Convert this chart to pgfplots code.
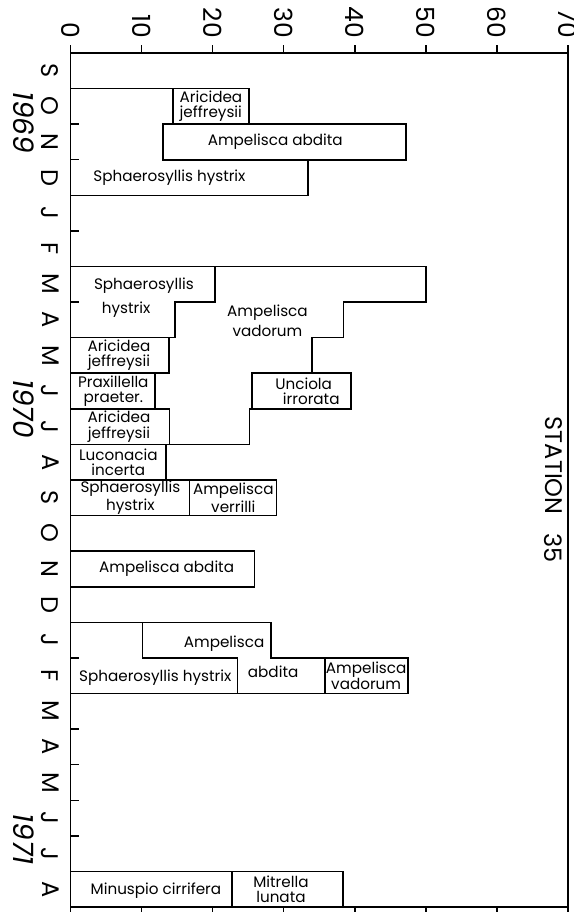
\documentclass[border=0pt]{standalone}
\usepackage{fontspec}
\setmainfont{Poppins}
\usepackage{pgfplots}
\pgfplotsset{compat=1.18}

\newcommand{\lab}{\fontsize{7.6}{7.6}\selectfont}
\tikzset{lbl/.style={font=\lab, align=center, inner sep=0pt},
  box/.style={draw=black, line width=0.8pt, mark=none, line join=miter}}

\begin{document}
\begin{tikzpicture}
\useasboundingbox (-35.35pt,-2.5pt) rectangle (251.35pt,453.5pt);
\begin{axis}[
  scale only axis, width=248.6pt, height=427pt,
  xmin=0, xmax=70, ymin=0, ymax=24, y dir=reverse,
  clip=false,
  axis line style={line width=0.8pt},
  tick align=outside, major tick length=4pt,
  tick style={line width=0.7pt, black},
  /pgf/number format/assume math mode=true,
  xtick={0,10,...,70}, xtick pos=both, xticklabel pos=upper,
  xticklabel style={rotate=-90, anchor=east, font=\fontsize{12.5}{12.5}\selectfont},
  ytick={1,...,23}, yticklabels={}, ytick pos=left,
  y tick style={xshift=4pt},
  extra y ticks={0.5,1.5,...,23.5},
  extra y tick labels={S,O,N,D,J,F,M,A,M,J,J,A,S,O,N,D,J,F,M,A,M,J,J,A},
  extra y tick style={major tick length=0pt,
    yticklabel style={xshift=-2.5pt, rotate=-90, anchor=north, font=\fontsize{12}{12}\selectfont}},
]
% 1969
\addplot[box] coordinates {(0,1)(14.4,1)(14.4,2)(13,2)(13,3)(33.4,3)(33.4,4)(0,4)(0,1)};
\addplot[box] coordinates {(14.4,1)(25.1,1)(25.1,2)(14.4,2)(14.4,1)};
\addplot[box] coordinates {(13,2)(47.2,2)(47.2,3)(13,3)(13,2)};
% 1970
\addplot[box] coordinates {(0,6)(20.3,6)(20.3,7)(14.7,7)(14.7,8)(0,8)(0,6)};
\addplot[box] coordinates {(20.3,6)(50,6)(50,7)(38.4,7)(38.4,8)(34,8)(34,9)(25.5,9)(25.5,10)(25.2,10)(25.2,11)(13.9,11)(13.9,10)(11.9,10)(11.9,9)(13.8,9)(13.8,8)(14.7,8)(14.7,7)(20.3,7)(20.3,6)};
\addplot[box] coordinates {(0,8)(13.8,8)(13.8,9)(0,9)(0,8)};
\addplot[box] coordinates {(0,9)(11.9,9)(11.9,10)(0,10)(0,9)};
\addplot[box] coordinates {(25.5,9)(39.5,9)(39.5,10)(25.5,10)(25.5,9)};
\addplot[box] coordinates {(0,10)(13.9,10)(13.9,11)(0,11)(0,10)};
\addplot[box] coordinates {(0,11)(13.4,11)(13.4,12)(0,12)(0,11)};
\addplot[box] coordinates {(0,12)(16.7,12)(16.7,13)(0,13)(0,12)};
\addplot[box] coordinates {(16.7,12)(29,12)(29,13)(16.7,13)(16.7,12)};
\addplot[box] coordinates {(0,14)(25.9,14)(25.9,15)(0,15)(0,14)};
% 1971
\addplot[box] coordinates {(0,16)(10.1,16)(10.1,17)(23.5,17)(23.5,18)(0,18)(0,16)};
\addplot[box] coordinates {(10.1,16)(28.2,16)(28.2,17)(35.8,17)(35.8,18)(23.5,18)(23.5,17)(10.1,17)(10.1,16)};
\addplot[box] coordinates {(35.8,17)(47.5,17)(47.5,18)(35.8,18)(35.8,17)};
\addplot[box] coordinates {(0,23)(22.7,23)(22.7,24)(0,24)(0,23)};
\addplot[box] coordinates {(22.7,23)(38.3,23)(38.3,24)(22.7,24)(22.7,23)};

% species names
\node[lbl, align=left] at (19.75,1.5) {Aricidea\\jeffreysii};
\node[lbl] at (28.8,2.5) {Ampelisca abdita};
\node[lbl] at (13.9,3.5) {Sphaerosyllis hystrix};
\node[lbl] at (10.3,6.55) {Sphaerosyllis};
\node[lbl] at (7.8,7.2) {hystrix};
\node[lbl] at (27.7,7.3) {Ampelisca};
\node[lbl] at (27.7,7.8) {vadorum};
\node[lbl] at (6.8,8.5) {Aricidea\\jeffreysii};
\node[lbl] at (6.0,9.5) {Praxillella\\praeter.};
\node[lbl] at (32.8,9.5) {Unciola\\\hspace*{1em}irrorata};
\node[lbl] at (6.8,10.5) {Aricidea\\jeffreysii};
\node[lbl] at (6.7,11.5) {Luconacia\\incerta};
\node[lbl] at (8.4,12.5) {Sphaerosyllis\\hystrix};
\node[lbl] at (22.9,12.5) {Ampelisca\\verrilli};
\node[lbl] at (13.5,14.5) {Ampelisca abdita};
\node[lbl] at (21.6,16.6) {Ampelisca};
\node[lbl] at (28.5,17.4) {abdita};
\node[lbl] at (11.9,17.55) {Sphaerosyllis hystrix};
\node[lbl] at (41.6,17.5) {Ampelisca\\vadorum};
\node[lbl] at (12.0,23.55) {Minuspio cirrifera};
\node[lbl] at (29.6,23.5) {Mitrella\\lunata};

% years and station
\node[rotate=-90, font=\fontsize{14}{14}\itshape] at (-6.6,1.95) {1969};
\node[rotate=-90, font=\fontsize{14}{14}\itshape] at (-6.6,10.0) {1970};
\node[rotate=-90, font=\fontsize{14}{14}\itshape] at (-6.6,22.1) {1971};
\node[rotate=-90, font=\fontsize{12}{12}\selectfont] at (68.0,11.6) {STATION};
\node[rotate=-90, font=\fontsize{12}{12}\selectfont] at (68.0,13.9) {35};
\end{axis}
\end{tikzpicture}
\end{document}
